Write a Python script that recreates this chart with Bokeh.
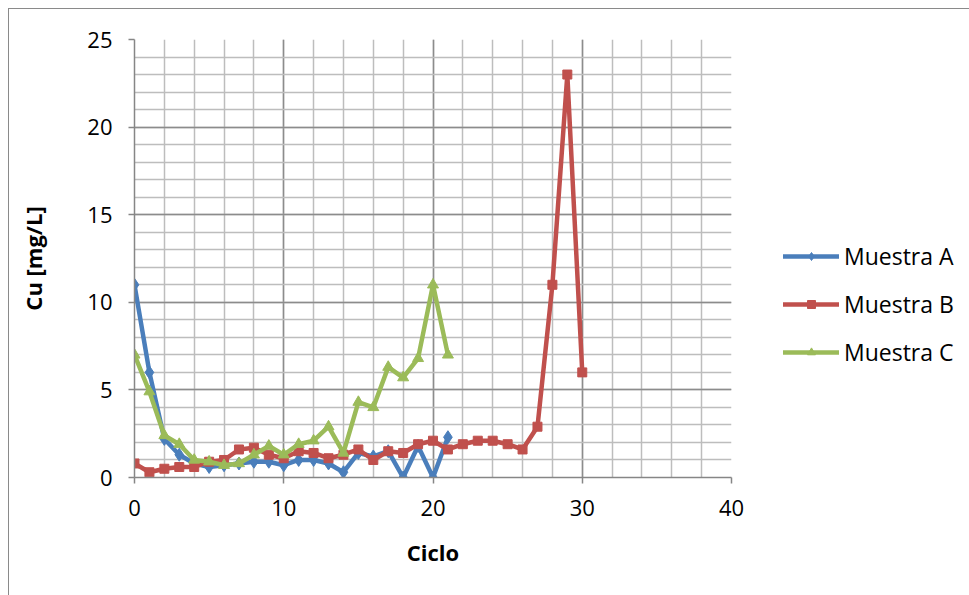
from bokeh.plotting import figure
from bokeh.models import SingleIntervalTicker, Legend, LegendItem, Range1d
from bokeh.embed import file_html
from bokeh.resources import INLINE

ciclo_A = list(range(0, 22))
muestra_A = [11.0, 6.0, 2.2, 1.3, 0.8, 0.6, 0.7, 0.8, 0.9, 0.9, 0.7, 1.0, 1.0, 0.8,
             0.3, 1.4, 1.2, 1.5, 0.0, 1.8, 0.0, 2.3]
ciclo_B = list(range(0, 31))
muestra_B = [0.8, 0.3, 0.5, 0.6, 0.6, 0.9, 1.0, 1.6, 1.7, 1.3, 1.1, 1.5, 1.4, 1.1,
             1.3, 1.6, 1.0, 1.5, 1.4, 1.9, 2.1, 1.6, 1.9, 2.1, 2.1, 1.9, 1.6, 2.9,
             11.0, 23.0, 6.0]
ciclo_C = list(range(0, 22))
muestra_C = [7.0, 4.9, 2.4, 1.9, 1.0, 0.9, 0.7, 0.8, 1.3, 1.8, 1.3, 1.9, 2.1, 2.9,
             1.4, 4.3, 4.0, 6.3, 5.7, 6.8, 11.0, 7.0]

names = ["Muestra A", "Muestra B", "Muestra C"]
colors = ["#4a7ebb", "#c0504d", "#9bbb59"]

FONT = "Open Sans"

p = figure(width=961, height=587, output_backend="svg", toolbar_location=None,
           x_range=Range1d(0, 40), y_range=Range1d(0, 25),
           frame_width=597, frame_height=438,
           min_border_left=125, min_border_top=30, min_border_right=239,
           min_border_bottom=119)
p.styles = {"margin-left": "8px", "margin-top": "8px",
            "border-left": "1px solid #8a8a8a", "border-top": "1px solid #8a8a8a"}
p.outline_line_color = None
p.background_fill_color = "white"
p.border_fill_color = "white"

p.xaxis.ticker = SingleIntervalTicker(interval=10, num_minor_ticks=5)
p.yaxis.ticker = SingleIntervalTicker(interval=5, num_minor_ticks=5)

for g in (p.xgrid, p.ygrid):
    g.grid_line_color = "#8c8c8c"
    g.grid_line_width = 1.5
    g.minor_grid_line_color = "#bdbdbd"
    g.minor_grid_line_width = 1.5

for ax in (p.xaxis, p.yaxis):
    ax.axis_line_color = "#868686"
    ax.axis_line_width = 1.5
    ax.major_tick_line_color = "#868686"
    ax.major_tick_line_width = 1.5
    ax.major_tick_out = 6
    ax.major_tick_in = 0
    ax.minor_tick_line_color = None
    ax.major_label_text_font = FONT
    ax.major_label_text_font_size = "22px"
    ax.major_label_text_color = "black"
    ax.axis_label_text_font = FONT
    ax.axis_label_text_font_style = "bold"
    ax.axis_label_text_font_size = "22px"
    ax.axis_label_text_color = "black"

p.xaxis.axis_label = "Ciclo"
p.yaxis.axis_label = "Cu [mg/L]"
p.xaxis.major_label_standoff = 16
p.yaxis.major_label_standoff = 16
p.xaxis.axis_label_standoff = 18
p.yaxis.axis_label_standoff = 36

items = []
series = [(ciclo_A, muestra_A, "diamond", 13), (ciclo_B, muestra_B, "square", 9),
          (ciclo_C, muestra_C, "triangle", 11)]
for (xs, ys, marker, size), name, col in zip(series, names, colors):
    ln = p.line(xs, ys, line_color=col, line_width=4.5, line_join="round", line_cap="round")
    sc = p.scatter(xs, ys, marker=marker, size=size, fill_color=col, line_color=col)
    items.append(LegendItem(label=name, renderers=[ln, sc]))

legend = Legend(items=items, location=(52, 109))
legend.border_line_color = None
legend.background_fill_alpha = 0
legend.padding = 0
legend.margin = 0
legend.spacing = 16
legend.glyph_width = 56
legend.glyph_height = 20
legend.label_height = 20
legend.label_standoff = 5
legend.label_text_font = FONT
legend.label_text_font_size = "23px"
legend.label_text_color = "black"
legend.label_text_baseline = "middle"
p.add_layout(legend, "right")

open("out.html", "w").write(file_html(p, INLINE))
